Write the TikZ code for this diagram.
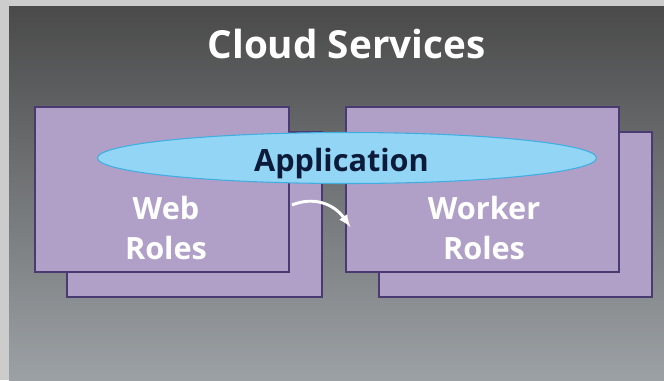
\documentclass[tikz,border=0pt]{standalone}
\usepackage{fontspec}
\usetikzlibrary{shapes.geometric}
\setmainfont{Open Sans}
\definecolor{roleFill}{HTML}{B0A0C8}
\definecolor{roleLine}{HTML}{4A3A72}
\definecolor{appFill}{HTML}{93D5F5}
\definecolor{appLine}{HTML}{3FAEE0}
\definecolor{appText}{HTML}{0D1B3A}
\definecolor{skyTop}{HTML}{4A4A4A}
\definecolor{skyMid}{HTML}{636668}
\definecolor{skyLow}{HTML}{9CA1A5}
\begin{document}
\begin{tikzpicture}[x=0.75pt, y=-0.75pt]
\tikzset{ >=latex, inner sep=0pt, outer sep=0pt,
  role/.style={draw=roleLine, fill=roleFill, line width=1.1pt, rectangle,
               minimum height=123.75pt},
  rolename/.style={text=white, font=\bfseries\fontsize{23}{30}\selectfont, align=center, anchor=base},
}

%\draw [lightgray, dashed](0,0) grid (664,380);
\useasboundingbox (0,0) rectangle (664,380);

% background
\fill [gray!40] (0,0) rectangle (664,380);
\shade [top color=skyTop, middle color=skyMid, bottom color=skyLow]
       (9,6) rectangle (664,380);

\node [text=white, font=\bfseries\fontsize{29}{34}\selectfont, anchor=base] (T) at (346.5,58) {Cloud Services};

\node [role, minimum width=191.25pt] (WBb) at (194.5,214.5) {};
\node [role, minimum width=190.5pt]  (WB)  at (162,189.5)   {};
\node [role, minimum width=204.75pt] (WKb) at (515.5,214.5) {};
\node [role, minimum width=204.75pt] (WK)  at (482.5,189.5) {};

\node [ellipse, draw=appLine, fill=appFill, line width=0.8pt,
       minimum width=374.25pt, minimum height=38.25pt] (A) at (347,158) {};
\node [text=appText, font=\bfseries\fontsize{23}{28}\selectfont, anchor=base] (AT) at (341.5,171) {Application};

\node [rolename] (WBt) at (166,259) {Web\\Roles};
\node [rolename] (WKt) at (484,259) {Worker\\Roles};

\coordinate (S) at (292,205);
\coordinate (E) at (349,225);
\draw [->, white, line width=2.2pt, shorten >=-2pt] (S) .. controls (314,196) and (334,204) .. (E);

\end{tikzpicture}
\end{document}
